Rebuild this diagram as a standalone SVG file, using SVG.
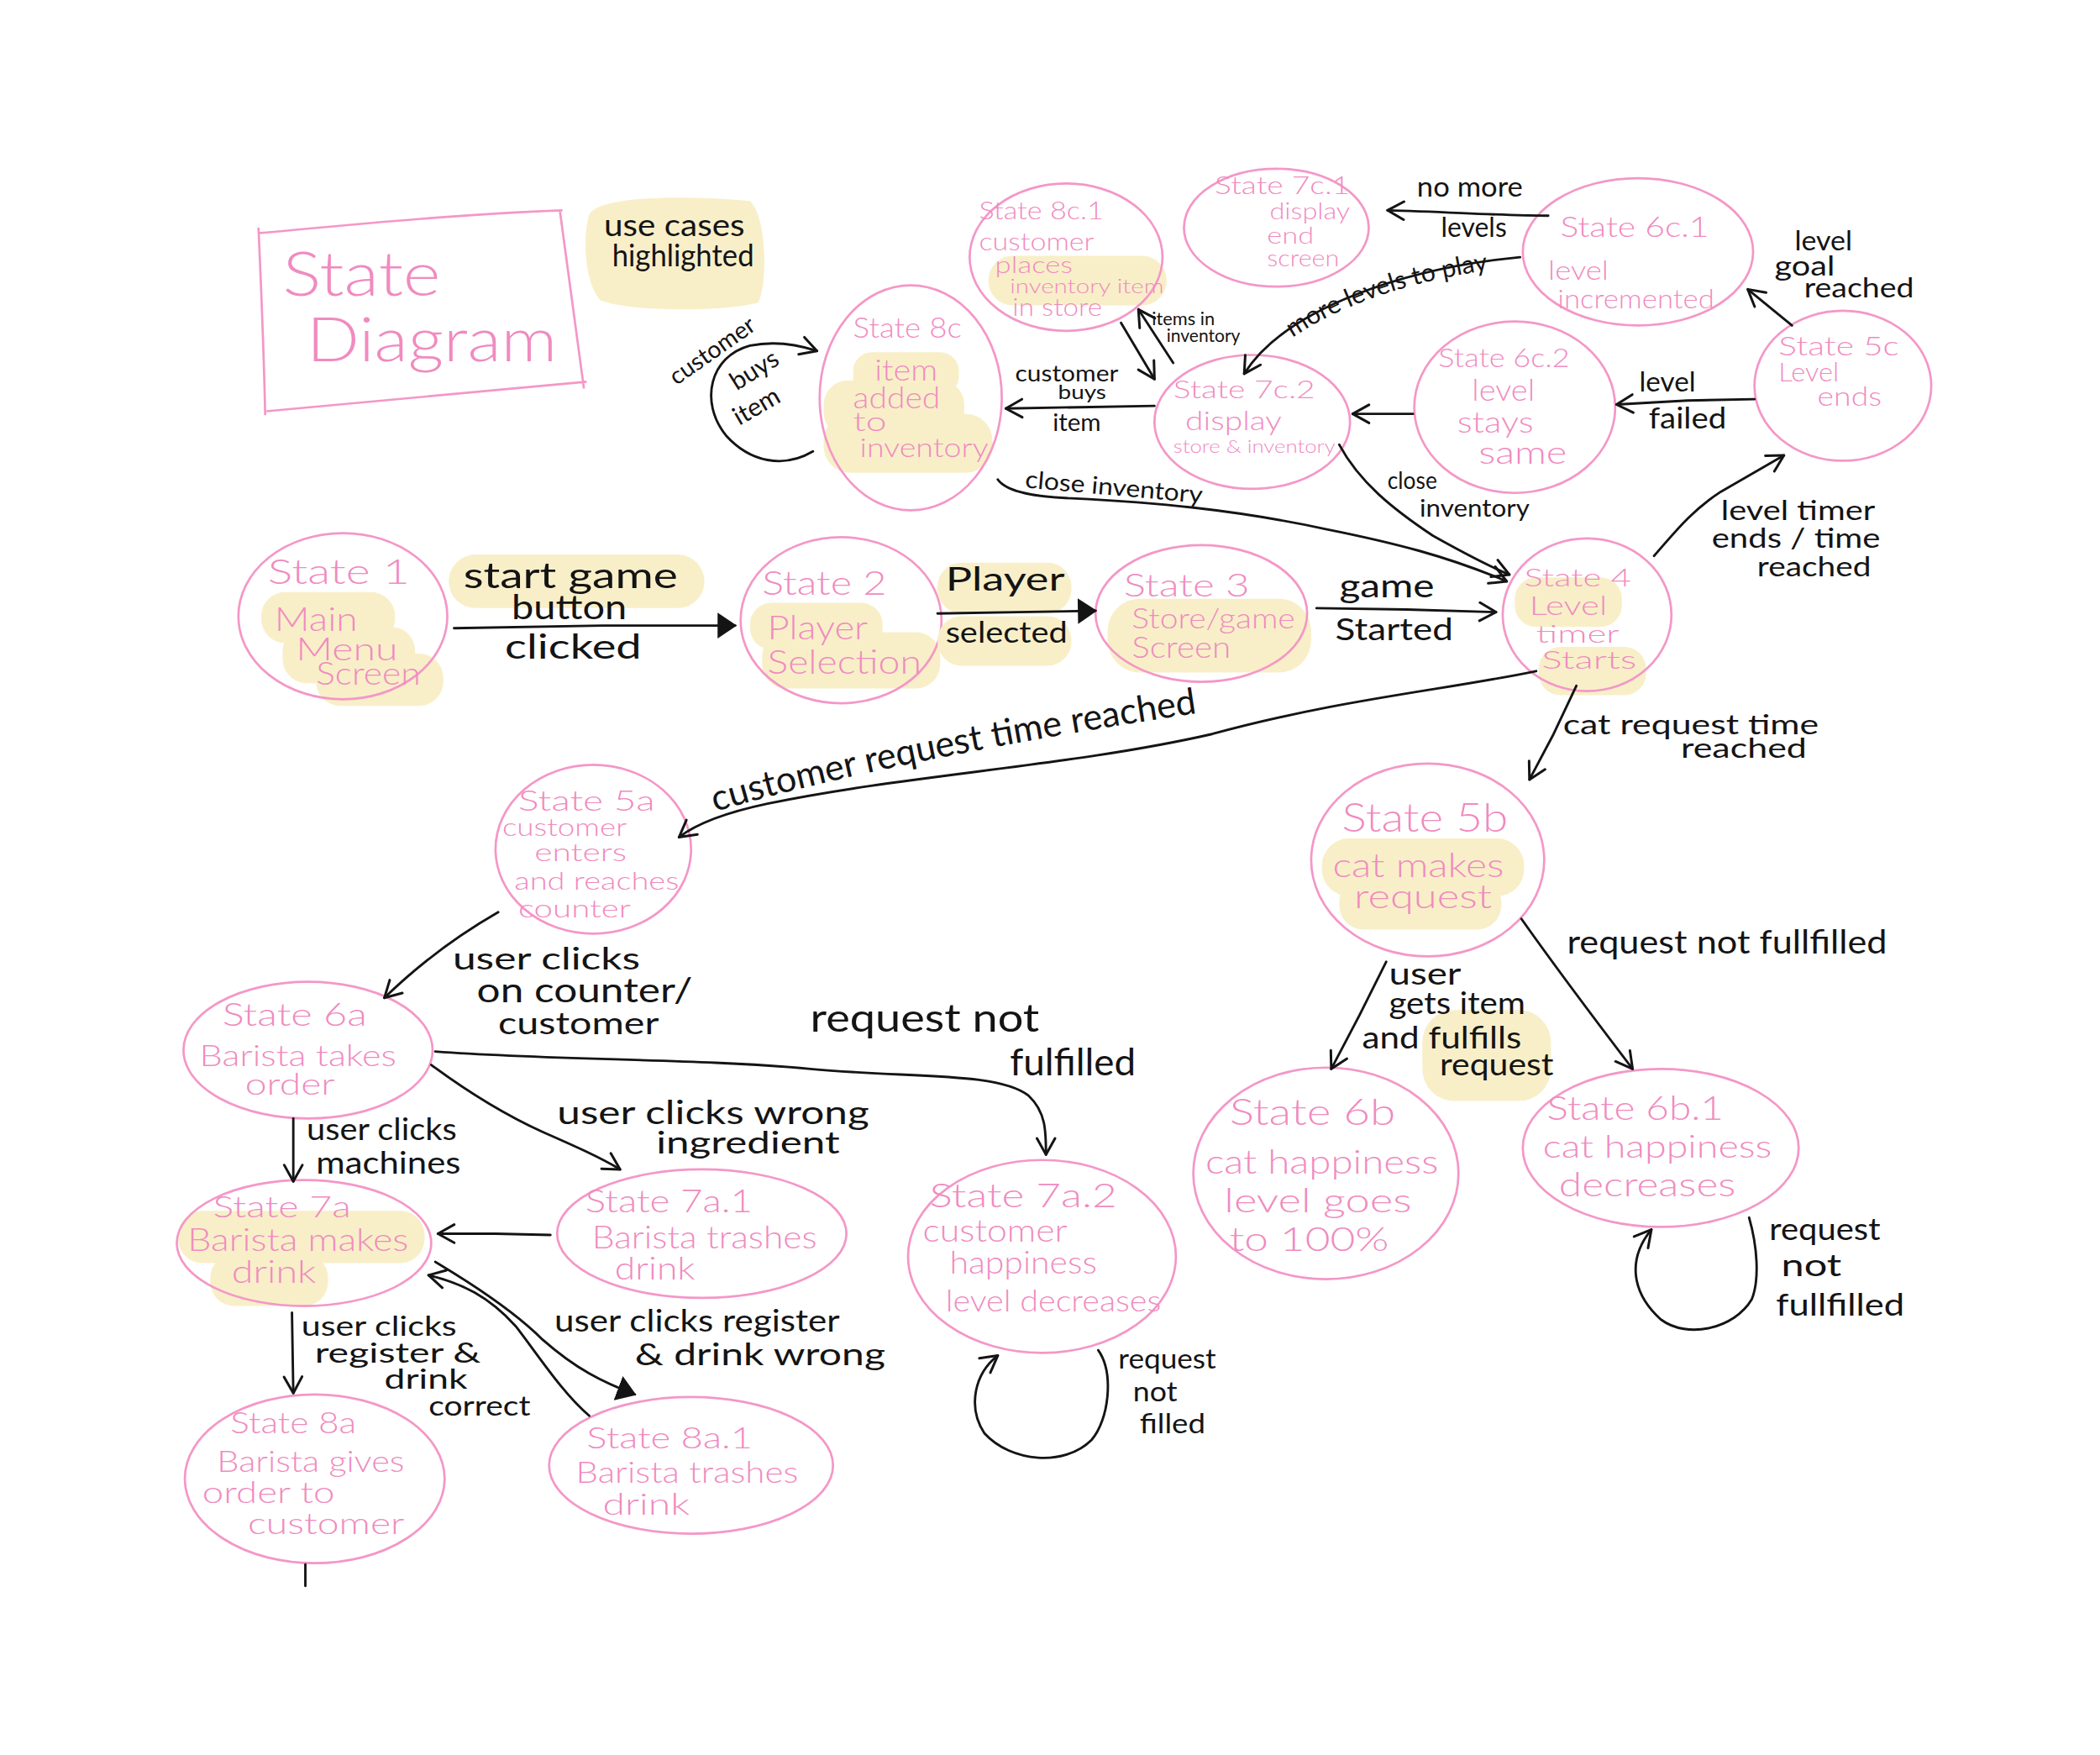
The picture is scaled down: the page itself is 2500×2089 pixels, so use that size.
<svg xmlns="http://www.w3.org/2000/svg" width="2500" height="2089" viewBox="0 0 2500 2089">
<defs>
<style>
.p{font-family:Lato,"Liberation Sans",sans-serif;font-weight:300;fill:#f08bbf}
.k{font-family:Lato,"Liberation Sans",sans-serif;font-weight:400;fill:#141414}
.n{fill:none;stroke:#f497c7;stroke-width:1.7}
.h{fill:#f8efc9}
.c{fill:none;stroke:#141414;stroke-width:1.8;stroke-linecap:round;stroke-linejoin:round}
.a{marker-end:url(#open)}
.f{marker-end:url(#tri)}
</style>
<marker id="open" viewBox="0 0 12 12" refX="10" refY="6" markerWidth="9" markerHeight="9" orient="auto" markerUnits="strokeWidth"><path d="M1,1 L10,6 L1,11" fill="none" stroke="#141414" stroke-width="1.4" stroke-linecap="round" stroke-linejoin="round"/></marker>
<marker id="tri" viewBox="0 0 12 16" refX="11" refY="8" markerWidth="8" markerHeight="10.7" orient="auto" markerUnits="strokeWidth"><path d="M0,0 L12,8 L0,16 Z" fill="#141414"/></marker>
<path id="lp1" d="M965,252 C1010,222 1070,206 1132,199"/>
<path id="lp2" d="M534,606 C620,580 760,552 904,531"/>
</defs>
<rect width="2500" height="2089" fill="#ffffff"/>
<g transform="scale(1.5944)">

<g id="title">
<path class="n" d="M194,174 C260,168 340,160 420,157 M418,157 C424,200 430,245 436,290 M438,285 C360,292 280,300 199,307 M198,310 C197,260 195,215 193,170"/>
<text class="p" x="211" y="221" font-size="46" textLength="118" lengthAdjust="spacingAndGlyphs">State</text>
<text class="p" x="229" y="270" font-size="46" textLength="187" lengthAdjust="spacingAndGlyphs">Diagram</text>
</g>

<g id="legend">
<path class="h" d="M440,160 C446,147 505,145 560,150 C573,162 573,214 566,226 C540,233 470,233 448,224 C436,210 435,176 440,160 Z"/>
<text class="k" x="451" y="176" font-size="23" textLength="105" lengthAdjust="spacingAndGlyphs">use cases</text>
<text class="k" x="457" y="199" font-size="23" textLength="106" lengthAdjust="spacingAndGlyphs">highlighted</text>
</g>

<g id="state-8c1">
<rect class="h" x="738" y="191" width="133" height="37" rx="18"/>
<ellipse class="n" cx="796" cy="192" rx="72" ry="55"/>
<text class="p" x="731" y="164" font-size="18" textLength="93" lengthAdjust="spacingAndGlyphs">State 8c.1</text>
<text class="p" x="731" y="187" font-size="18" textLength="86" lengthAdjust="spacingAndGlyphs">customer</text>
<text class="p" x="743" y="204" font-size="17" textLength="58" lengthAdjust="spacingAndGlyphs">places</text>
<text class="p" x="754" y="219" font-size="15" textLength="115" lengthAdjust="spacingAndGlyphs">inventory item</text>
<text class="p" x="756" y="236" font-size="18" textLength="67" lengthAdjust="spacingAndGlyphs">in store</text>
</g>

<g id="state-7c1">
<ellipse class="n" cx="953" cy="170" rx="69" ry="44"/>
<text class="p" x="907" y="145" font-size="18" textLength="101" lengthAdjust="spacingAndGlyphs">State 7c.1</text>
<text class="p" x="948" y="164" font-size="17" textLength="60" lengthAdjust="spacingAndGlyphs">display</text>
<text class="p" x="946" y="182" font-size="17" textLength="35" lengthAdjust="spacingAndGlyphs">end</text>
<text class="p" x="946" y="199" font-size="17" textLength="54" lengthAdjust="spacingAndGlyphs">screen</text>
</g>

<g id="state-8c">
<rect class="h" x="637" y="263" width="79" height="32" rx="14"/>
<rect class="h" x="615" y="284" width="105" height="42" rx="18"/>
<rect class="h" x="615" y="309" width="126" height="44" rx="20"/>
<ellipse class="n" cx="680" cy="297" rx="68" ry="84"/>
<text class="p" x="637" y="252" font-size="21" textLength="81" lengthAdjust="spacingAndGlyphs">State 8c</text>
<text class="p" x="653" y="284" font-size="22" textLength="47" lengthAdjust="spacingAndGlyphs">item</text>
<text class="p" x="637" y="305" font-size="22" textLength="65" lengthAdjust="spacingAndGlyphs">added</text>
<text class="p" x="637" y="322" font-size="20" textLength="25" lengthAdjust="spacingAndGlyphs">to</text>
<text class="p" x="642" y="341" font-size="20" textLength="96" lengthAdjust="spacingAndGlyphs">inventory</text>
</g>

<g id="state-7c2">
<ellipse class="n" cx="935" cy="315" rx="73" ry="50"/>
<text class="p" x="876" y="297" font-size="19" textLength="106" lengthAdjust="spacingAndGlyphs">State 7c.2</text>
<text class="p" x="885" y="321" font-size="20" textLength="72" lengthAdjust="spacingAndGlyphs">display</text>
<text class="p" x="876" y="338" font-size="13" textLength="121" lengthAdjust="spacingAndGlyphs">store &amp; inventory</text>
</g>

<g id="state-6c1">
<ellipse class="n" cx="1223" cy="188" rx="86" ry="55"/>
<text class="p" x="1165" y="177" font-size="21" textLength="111" lengthAdjust="spacingAndGlyphs">State 6c.1</text>
<text class="p" x="1156" y="209" font-size="20" textLength="45" lengthAdjust="spacingAndGlyphs">level</text>
<text class="p" x="1163" y="230" font-size="20" textLength="117" lengthAdjust="spacingAndGlyphs">incremented</text>
</g>

<g id="state-5c">
<ellipse class="n" cx="1376" cy="288" rx="66" ry="56"/>
<text class="p" x="1328" y="265" font-size="20" textLength="90" lengthAdjust="spacingAndGlyphs">State 5c</text>
<text class="p" x="1328" y="285" font-size="20" textLength="45" lengthAdjust="spacingAndGlyphs">Level</text>
<text class="p" x="1357" y="303" font-size="20" textLength="48" lengthAdjust="spacingAndGlyphs">ends</text>
</g>

<g id="state-6c2">
<ellipse class="n" cx="1131" cy="304" rx="75" ry="64"/>
<text class="p" x="1074" y="274" font-size="20" textLength="98" lengthAdjust="spacingAndGlyphs">State 6c.2</text>
<text class="p" x="1099" y="299" font-size="22" textLength="47" lengthAdjust="spacingAndGlyphs">level</text>
<text class="p" x="1088" y="323" font-size="22" textLength="57" lengthAdjust="spacingAndGlyphs">stays</text>
<text class="p" x="1104" y="346" font-size="23" textLength="66" lengthAdjust="spacingAndGlyphs">same</text>
</g>

<g id="state-1">
<rect class="h" x="195" y="442" width="100" height="38" rx="18"/>
<rect class="h" x="211" y="468" width="99" height="42" rx="18"/>
<rect class="h" x="236" y="488" width="95" height="39" rx="18"/>
<ellipse class="n" cx="256" cy="460" rx="78" ry="62"/>
<text class="p" x="200" y="436" font-size="26" textLength="106" lengthAdjust="spacingAndGlyphs">State 1</text>
<text class="p" x="205" y="471" font-size="25" textLength="62" lengthAdjust="spacingAndGlyphs">Main</text>
<text class="p" x="221" y="493" font-size="24" textLength="76" lengthAdjust="spacingAndGlyphs">Menu</text>
<text class="p" x="236" y="511" font-size="23" textLength="78" lengthAdjust="spacingAndGlyphs">Screen</text>
</g>

<g id="state-2">
<rect class="h" x="560" y="450" width="99" height="35" rx="16"/>
<rect class="h" x="569" y="472" width="133" height="42" rx="18"/>
<ellipse class="n" cx="628" cy="463" rx="75" ry="62"/>
<text class="p" x="569" y="444" font-size="25" textLength="93" lengthAdjust="spacingAndGlyphs">State 2</text>
<text class="p" x="573" y="477" font-size="25" textLength="75" lengthAdjust="spacingAndGlyphs">Player</text>
<text class="p" x="573" y="503" font-size="25" textLength="115" lengthAdjust="spacingAndGlyphs">Selection</text>
</g>

<g id="state-3">
<rect class="h" x="827" y="447" width="152" height="55" rx="24"/>
<ellipse class="n" cx="897" cy="458" rx="79" ry="51"/>
<text class="p" x="839" y="445" font-size="23" textLength="94" lengthAdjust="spacingAndGlyphs">State 3</text>
<text class="p" x="845" y="469" font-size="21" textLength="122" lengthAdjust="spacingAndGlyphs">Store/game</text>
<text class="p" x="845" y="491" font-size="22" textLength="74" lengthAdjust="spacingAndGlyphs">Screen</text>
</g>

<g id="state-4">
<rect class="h" x="1131" y="431" width="80" height="37" rx="16"/>
<rect class="h" x="1149" y="483" width="80" height="36" rx="16"/>
<ellipse class="n" cx="1185" cy="459" rx="63" ry="57"/>
<text class="p" x="1138" y="438" font-size="19" textLength="80" lengthAdjust="spacingAndGlyphs">State 4</text>
<text class="p" x="1142" y="459" font-size="20" textLength="58" lengthAdjust="spacingAndGlyphs">Level</text>
<text class="p" x="1147" y="480" font-size="19" textLength="62" lengthAdjust="spacingAndGlyphs">timer</text>
<text class="p" x="1151" y="499" font-size="19" textLength="71" lengthAdjust="spacingAndGlyphs">Starts</text>
</g>

<g id="state-5a">
<ellipse class="n" cx="443" cy="634" rx="73" ry="63"/>
<text class="p" x="387" y="605" font-size="21" textLength="102" lengthAdjust="spacingAndGlyphs">State 5a</text>
<text class="p" x="375" y="624" font-size="19" textLength="93" lengthAdjust="spacingAndGlyphs">customer</text>
<text class="p" x="399" y="643" font-size="19" textLength="69" lengthAdjust="spacingAndGlyphs">enters</text>
<text class="p" x="384" y="664" font-size="18" textLength="123" lengthAdjust="spacingAndGlyphs">and reaches</text>
<text class="p" x="387" y="685" font-size="19" textLength="84" lengthAdjust="spacingAndGlyphs">counter</text>
</g>

<g id="state-5b">
<rect class="h" x="987" y="626" width="151" height="43" rx="20"/>
<rect class="h" x="1000" y="655" width="121" height="39" rx="18"/>
<ellipse class="n" cx="1066" cy="642" rx="87" ry="72"/>
<text class="p" x="1002" y="621" font-size="30" textLength="124" lengthAdjust="spacingAndGlyphs">State 5b</text>
<text class="p" x="995" y="655" font-size="25" textLength="128" lengthAdjust="spacingAndGlyphs">cat makes</text>
<text class="p" x="1011" y="678" font-size="25" textLength="103" lengthAdjust="spacingAndGlyphs">request</text>
</g>

<g id="state-6a">
<ellipse class="n" cx="230" cy="784" rx="93" ry="51"/>
<text class="p" x="166" y="766" font-size="23" textLength="108" lengthAdjust="spacingAndGlyphs">State 6a</text>
<text class="p" x="149" y="796" font-size="22" textLength="147" lengthAdjust="spacingAndGlyphs">Barista takes</text>
<text class="p" x="183" y="817" font-size="22" textLength="67" lengthAdjust="spacingAndGlyphs">order</text>
</g>

<g id="state-7a">
<rect class="h" x="133" y="904" width="184" height="39" rx="18"/>
<rect class="h" x="157" y="936" width="88" height="39" rx="18"/>
<ellipse class="n" cx="227" cy="928" rx="95" ry="47"/>
<text class="p" x="159" y="909" font-size="22" textLength="103" lengthAdjust="spacingAndGlyphs">State 7a</text>
<text class="p" x="140" y="934" font-size="23" textLength="165" lengthAdjust="spacingAndGlyphs">Barista makes</text>
<text class="p" x="173" y="958" font-size="23" textLength="63" lengthAdjust="spacingAndGlyphs">drink</text>
</g>

<g id="state-7a1">
<ellipse class="n" cx="524" cy="921" rx="108" ry="48"/>
<text class="p" x="437" y="905" font-size="23" textLength="125" lengthAdjust="spacingAndGlyphs">State 7a.1</text>
<text class="p" x="442" y="932" font-size="23" textLength="168" lengthAdjust="spacingAndGlyphs">Barista trashes</text>
<text class="p" x="459" y="955" font-size="23" textLength="60" lengthAdjust="spacingAndGlyphs">drink</text>
</g>

<g id="state-7a2">
<ellipse class="n" cx="778" cy="938" rx="100" ry="72"/>
<text class="p" x="694" y="901" font-size="25" textLength="140" lengthAdjust="spacingAndGlyphs">State 7a.2</text>
<text class="p" x="689" y="927" font-size="24" textLength="108" lengthAdjust="spacingAndGlyphs">customer</text>
<text class="p" x="709" y="951" font-size="23" textLength="110" lengthAdjust="spacingAndGlyphs">happiness</text>
<text class="p" x="706" y="979" font-size="22" textLength="161" lengthAdjust="spacingAndGlyphs">level decreases</text>
</g>

<g id="state-8a">
<ellipse class="n" cx="235" cy="1104" rx="97" ry="63"/>
<text class="p" x="172" y="1070" font-size="22" textLength="94" lengthAdjust="spacingAndGlyphs">State 8a</text>
<text class="p" x="162" y="1099" font-size="22" textLength="140" lengthAdjust="spacingAndGlyphs">Barista gives</text>
<text class="p" x="151" y="1122" font-size="22" textLength="99" lengthAdjust="spacingAndGlyphs">order to</text>
<text class="p" x="185" y="1145" font-size="22" textLength="117" lengthAdjust="spacingAndGlyphs">customer</text>
</g>

<g id="state-8a1">
<ellipse class="n" cx="516" cy="1094" rx="106" ry="51"/>
<text class="p" x="438" y="1081" font-size="22" textLength="124" lengthAdjust="spacingAndGlyphs">State 8a.1</text>
<text class="p" x="430" y="1107" font-size="22" textLength="166" lengthAdjust="spacingAndGlyphs">Barista trashes</text>
<text class="p" x="450" y="1131" font-size="22" textLength="65" lengthAdjust="spacingAndGlyphs">drink</text>
</g>

<g id="state-6b">
<ellipse class="n" cx="990" cy="876" rx="99" ry="79"/>
<text class="p" x="918" y="840" font-size="27" textLength="124" lengthAdjust="spacingAndGlyphs">State 6b</text>
<text class="p" x="900" y="876" font-size="25" textLength="174" lengthAdjust="spacingAndGlyphs">cat happiness</text>
<text class="p" x="914" y="905" font-size="25" textLength="140" lengthAdjust="spacingAndGlyphs">level goes</text>
<text class="p" x="918" y="934" font-size="25" textLength="119" lengthAdjust="spacingAndGlyphs">to 100%</text>
</g>

<g id="state-6b1">
<ellipse class="n" cx="1240" cy="857" rx="103" ry="59"/>
<text class="p" x="1155" y="836" font-size="25" textLength="132" lengthAdjust="spacingAndGlyphs">State 6b.1</text>
<text class="p" x="1152" y="864" font-size="24" textLength="171" lengthAdjust="spacingAndGlyphs">cat happiness</text>
<text class="p" x="1164" y="893" font-size="25" textLength="132" lengthAdjust="spacingAndGlyphs">decreases</text>
</g>

<g id="connectors">
<!-- 8c self loop -->
<path class="c a" d="M607,337 C585,350 560,345 542,325 C522,300 530,266 560,258 C580,254 598,258 610,262"/>
<text class="k" font-size="18" transform="translate(505,288) rotate(-35)">customer</text>
<text class="k" font-size="19" transform="translate(550,292) rotate(-32)">buys</text>
<text class="k" font-size="19" transform="translate(552,318) rotate(-30)">item</text>

<!-- 7c.2 -> 8c -->
<path class="c a" d="M862,303 L806,304 L751,305"/>
<text class="k" x="758" y="285" font-size="17" textLength="77" lengthAdjust="spacingAndGlyphs">customer</text>
<text class="k" x="790" y="298" font-size="15" textLength="36" lengthAdjust="spacingAndGlyphs">buys</text>
<text class="k" x="786" y="322" font-size="18" textLength="36" lengthAdjust="spacingAndGlyphs">item</text>

<!-- 8c.1 <-> 7c.2 -->
<path class="c a" d="M837,241 L862,283"/>
<path class="c a" d="M876,271 L850,231"/>
<text class="k" x="860" y="243" font-size="13" textLength="47" lengthAdjust="spacingAndGlyphs">items in</text>
<text class="k" x="871" y="255" font-size="13" textLength="55" lengthAdjust="spacingAndGlyphs">inventory</text>

<!-- 6c.1 -> 7c.1 -->
<path class="c a" d="M1156,161 C1120,161 1080,158 1036,157"/>
<text class="k" x="1058" y="147" font-size="20" textLength="79" lengthAdjust="spacingAndGlyphs">no more</text>
<text class="k" x="1076" y="177" font-size="20" textLength="49" lengthAdjust="spacingAndGlyphs">levels</text>

<!-- 6c.1 -> 7c.2 -->
<path class="c a" d="M1135,192 C1050,200 960,230 929,279"/>
<text class="k" font-size="19"><textPath href="#lp1">more levels to play</textPath></text>

<!-- 6c.2 -> 7c.2 -->
<path class="c a" d="M1055,309 L1010,309"/>

<!-- 5c -> 6c.2 -->
<path class="c a" d="M1310,298 L1260,299 L1207,302"/>
<text class="k" x="1224" y="292" font-size="20" textLength="42" lengthAdjust="spacingAndGlyphs">level</text>
<text class="k" x="1231" y="320" font-size="22" textLength="58" lengthAdjust="spacingAndGlyphs">failed</text>

<!-- 5c -> 6c.1 -->
<path class="c a" d="M1338,243 L1305,216"/>
<text class="k" x="1340" y="187" font-size="20" textLength="43" lengthAdjust="spacingAndGlyphs">level</text>
<text class="k" x="1325" y="206" font-size="20" textLength="45" lengthAdjust="spacingAndGlyphs">goal</text>
<text class="k" x="1347" y="222" font-size="20" textLength="82" lengthAdjust="spacingAndGlyphs">reached</text>

<!-- 4 -> 5c -->
<path class="c a" d="M1235,415 C1250,398 1262,382 1285,367 L1332,340"/>
<text class="k" x="1285" y="388" font-size="21" textLength="115" lengthAdjust="spacingAndGlyphs">level timer</text>
<text class="k" x="1278" y="409" font-size="21" textLength="126" lengthAdjust="spacingAndGlyphs">ends / time</text>
<text class="k" x="1312" y="430" font-size="21" textLength="85" lengthAdjust="spacingAndGlyphs">reached</text>

<!-- 7c.2 -> 4 -->
<path class="c a" d="M1000,332 C1015,360 1040,380 1070,400 C1095,414 1110,422 1127,429"/>
<text class="k" x="1036" y="365" font-size="18" textLength="37" lengthAdjust="spacingAndGlyphs">close</text>
<text class="k" x="1060" y="386" font-size="18" textLength="82" lengthAdjust="spacingAndGlyphs">inventory</text>

<!-- 8c -> 4 -->
<path class="c a" d="M745,358 C752,368 775,371 800,372 C860,375 920,380 990,395 C1040,405 1080,415 1125,434"/>
<text class="k" x="765" y="364" font-size="18" textLength="133" lengthAdjust="spacingAndGlyphs" transform="rotate(5 765 364)">close inventory</text>

<!-- 1 -> 2 -->
<rect class="h" x="335" y="414" width="191" height="40" rx="20"/>
<path class="c f" d="M339,469 L450,467 L549,467"/>
<text class="k" x="346" y="439" font-size="27" textLength="160" lengthAdjust="spacingAndGlyphs">start game</text>
<text class="k" x="382" y="462" font-size="25" textLength="86" lengthAdjust="spacingAndGlyphs">button</text>
<text class="k" x="377" y="492" font-size="26" textLength="102" lengthAdjust="spacingAndGlyphs">clicked</text>

<!-- 2 -> 3 -->
<rect class="h" x="700" y="420" width="100" height="38" rx="18"/>
<rect class="h" x="700" y="460" width="100" height="37" rx="18"/>
<path class="c f" d="M700,458 L760,457 L818,456"/>
<text class="k" x="706" y="441" font-size="24" textLength="89" lengthAdjust="spacingAndGlyphs">Player</text>
<text class="k" x="706" y="480" font-size="22" textLength="91" lengthAdjust="spacingAndGlyphs">selected</text>

<!-- 3 -> 4 -->
<path class="c a" d="M983,454 L1050,455 L1117,457"/>
<text class="k" x="1000" y="446" font-size="24" textLength="71" lengthAdjust="spacingAndGlyphs">game</text>
<text class="k" x="997" y="478" font-size="23" textLength="88" lengthAdjust="spacingAndGlyphs">Started</text>

<!-- 4 -> 5a -->
<path class="c a" d="M1147,501 C1080,515 1000,522 905,548 C800,572 680,578 573,600 C540,607 520,615 507,625"/>
<text class="k" font-size="27"><textPath href="#lp2">customer request time reached</textPath></text>

<!-- 4 -> 5b -->
<path class="c a" d="M1177,512 L1160,548 L1142,582"/>
<text class="k" x="1167" y="548" font-size="21" textLength="191" lengthAdjust="spacingAndGlyphs">cat request time</text>
<text class="k" x="1255" y="566" font-size="21" textLength="94" lengthAdjust="spacingAndGlyphs">reached</text>

<!-- 5a -> 6a -->
<path class="c a" d="M372,681 Q325,708 287,745"/>
<text class="k" x="338" y="724" font-size="23" textLength="140" lengthAdjust="spacingAndGlyphs">user clicks</text>
<text class="k" x="356" y="748" font-size="25" textLength="161" lengthAdjust="spacingAndGlyphs">on counter/</text>
<text class="k" x="372" y="772" font-size="23" textLength="120" lengthAdjust="spacingAndGlyphs">customer</text>

<!-- 6a -> 7a.2 -->
<path class="c a" d="M325,785 C420,792 520,790 605,798 C680,805 745,800 768,818 C781,830 781,845 781,862"/>
<text class="k" x="605" y="770" font-size="29" textLength="171" lengthAdjust="spacingAndGlyphs">request not</text>
<text class="k" x="754" y="803" font-size="28" textLength="94" lengthAdjust="spacingAndGlyphs">fulfilled</text>

<!-- 6a -> 7a.1 -->
<path class="c a" d="M322,795 C345,812 372,830 405,845 C430,856 448,864 463,873"/>
<text class="k" x="416" y="839" font-size="24" textLength="233" lengthAdjust="spacingAndGlyphs">user clicks wrong</text>
<text class="k" x="490" y="861" font-size="23" textLength="137" lengthAdjust="spacingAndGlyphs">ingredient</text>

<!-- 6a -> 7a -->
<path class="c a" d="M219,835 L219,882"/>
<text class="k" x="229" y="851" font-size="23" textLength="112" lengthAdjust="spacingAndGlyphs">user clicks</text>
<text class="k" x="236" y="876" font-size="23" textLength="108" lengthAdjust="spacingAndGlyphs">machines</text>

<!-- 7a.1 -> 7a -->
<path class="c a" d="M411,922 L370,921 L327,921"/>

<!-- 7a.2 self loop -->
<path class="c a" d="M820,1008 C832,1025 828,1060 815,1075 C795,1095 755,1092 735,1070 C722,1050 728,1025 745,1012"/>
<text class="k" x="835" y="1022" font-size="20" textLength="73" lengthAdjust="spacingAndGlyphs">request</text>
<text class="k" x="846" y="1046" font-size="20" textLength="33" lengthAdjust="spacingAndGlyphs">not</text>
<text class="k" x="851" y="1070" font-size="20" textLength="49" lengthAdjust="spacingAndGlyphs">filled</text>

<!-- 7a -> 8a -->
<path class="c a" d="M218,980 L219,1040"/>
<text class="k" x="225" y="997" font-size="21" textLength="116" lengthAdjust="spacingAndGlyphs">user clicks</text>
<text class="k" x="235" y="1017" font-size="21" textLength="124" lengthAdjust="spacingAndGlyphs">register &amp;</text>
<text class="k" x="287" y="1037" font-size="21" textLength="62" lengthAdjust="spacingAndGlyphs">drink</text>
<text class="k" x="320" y="1057" font-size="21" textLength="76" lengthAdjust="spacingAndGlyphs">correct</text>

<!-- 7a -> 8a.1 -->
<path class="c f" d="M325,942 C355,960 385,980 405,1000 C430,1022 450,1032 474,1041"/>
<text class="k" x="414" y="994" font-size="23" textLength="213" lengthAdjust="spacingAndGlyphs">user clicks register</text>
<text class="k" x="474" y="1019" font-size="23" textLength="187" lengthAdjust="spacingAndGlyphs">&amp; drink wrong</text>

<!-- 8a.1 -> 7a -->
<path class="c a" d="M440,1057 C420,1040 402,1012 385,990 C365,968 345,958 320,952"/>

<!-- 8a tail -->
<path class="c" d="M228,1168 L228,1184"/>

<!-- 5b -> 6b -->
<rect class="h" x="1062" y="754" width="96" height="68" rx="24"/>
<path class="c a" d="M1035,718 L1015,758 L994,798"/>
<text class="k" x="1037" y="735" font-size="23" textLength="54" lengthAdjust="spacingAndGlyphs">user</text>
<text class="k" x="1037" y="757" font-size="23" textLength="102" lengthAdjust="spacingAndGlyphs">gets item</text>
<text class="k" x="1017" y="783" font-size="23" textLength="119" lengthAdjust="spacingAndGlyphs">and fulfills</text>
<text class="k" x="1075" y="803" font-size="23" textLength="85" lengthAdjust="spacingAndGlyphs">request</text>

<!-- 5b -> 6b.1 -->
<path class="c a" d="M1136,686 C1160,720 1190,760 1219,798"/>
<text class="k" x="1170" y="712" font-size="24" textLength="239" lengthAdjust="spacingAndGlyphs">request not fullfilled</text>

<!-- 6b.1 self loop -->
<path class="c a" d="M1306,909 C1312,930 1314,955 1308,970 C1295,992 1260,1000 1240,985 C1218,965 1215,940 1233,918"/>
<text class="k" x="1321" y="926" font-size="23" textLength="83" lengthAdjust="spacingAndGlyphs">request</text>
<text class="k" x="1330" y="953" font-size="23" textLength="45" lengthAdjust="spacingAndGlyphs">not</text>
<text class="k" x="1326" y="982" font-size="23" textLength="96" lengthAdjust="spacingAndGlyphs">fullfilled</text>
</g>

</g>
</svg>
